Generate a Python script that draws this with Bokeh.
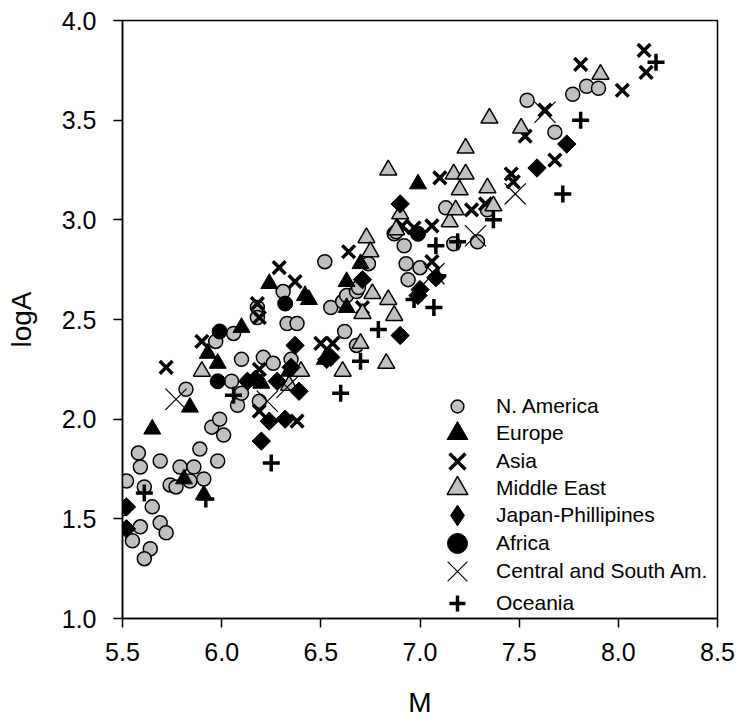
import math
from bokeh.plotting import figure
from bokeh.models import FixedTicker, PrintfTickFormatter, Legend, LegendItem, Range1d
from bokeh.embed import file_html
from bokeh.resources import INLINE

# ---- data (M, logA) ----
na_m = [5.50, 5.52, 5.58, 5.59, 5.61, 5.65, 5.59, 5.55, 5.64, 5.61, 5.69, 5.72, 5.69, 5.74, 5.77,
        5.79, 5.84, 5.86, 5.91, 5.89, 5.82, 5.95, 5.99, 6.01, 5.98, 5.97, 6.06, 6.05, 6.10, 6.08,
        6.10, 6.18, 6.18, 6.21, 6.26, 6.19, 6.31, 6.33, 6.38, 6.52, 6.55, 6.61, 6.63, 6.62, 6.68,
        6.68, 6.69, 6.74, 6.87, 6.88, 6.92, 6.93, 6.94, 7.00, 7.13, 7.17, 7.29, 7.34, 7.54, 7.68,
        7.77, 7.84, 7.90, 6.35]
na_a = [1.55, 1.69, 1.83, 1.76, 1.66, 1.56, 1.46, 1.39, 1.35, 1.30, 1.48, 1.43, 1.79, 1.67, 1.66,
        1.76, 1.69, 1.76, 1.70, 1.85, 2.15, 1.96, 2.00, 1.92, 1.79, 2.39, 2.43, 2.19, 2.30, 2.07,
        2.13, 2.56, 2.51, 2.31, 2.28, 2.09, 2.64, 2.48, 2.48, 2.79, 2.56, 2.59, 2.62, 2.44, 2.37,
        2.64, 2.66, 2.78, 2.93, 2.94, 2.87, 2.78, 2.70, 2.76, 3.06, 2.88, 2.89, 3.05, 3.60, 3.44,
        3.63, 3.67, 3.66, 2.30]

eu_m = [5.65, 5.84, 5.81, 5.91, 5.93, 5.98, 6.10, 6.20, 6.24, 6.42, 6.44, 6.52, 6.63, 6.63, 6.70,
        6.99, 6.34]
eu_a = [1.95, 2.06, 1.70, 1.62, 2.33, 2.28, 2.46, 2.18, 2.68, 2.62, 2.60, 2.30, 2.56, 2.69, 2.78,
        3.18, 2.24]

as_m = [5.72, 5.90, 6.18, 6.19, 6.29, 6.37, 6.19, 6.19, 6.38, 6.50, 6.56, 6.64, 6.71, 6.91, 6.97,
        7.06, 7.06, 7.10, 7.26, 7.46, 7.47, 7.53, 7.63, 7.68, 7.81, 8.02, 8.13, 8.14, 7.33]
as_a = [2.26, 2.39, 2.58, 2.51, 2.76, 2.69, 2.25, 2.04, 1.99, 2.38, 2.38, 2.84, 2.56, 2.97, 2.96,
        2.97, 2.79, 3.21, 3.05, 3.23, 3.19, 3.42, 3.55, 3.30, 3.78, 3.65, 3.85, 3.74, 3.08]

me_m = [5.90, 6.34, 6.40, 6.61, 6.71, 6.70, 6.73, 6.75, 6.76, 6.84, 6.87, 6.83, 6.84, 6.90, 6.88,
        7.15, 7.17, 7.20, 7.23, 7.23, 7.18, 7.34, 7.37, 7.35, 7.51, 7.91]
me_a = [2.24, 2.17, 2.24, 2.24, 2.53, 2.38, 2.91, 2.84, 2.63, 2.60, 2.52, 2.28, 3.25, 3.03, 2.95,
        2.99, 3.23, 3.15, 3.23, 3.36, 3.05, 3.16, 3.07, 3.51, 3.46, 3.73]

jp_m = [5.52, 5.52, 6.20, 6.24, 6.32, 6.13, 6.28, 6.35, 6.37, 6.39, 6.55, 6.71, 6.90, 6.90, 6.99,
        7.00, 7.08, 7.59, 7.74, 6.17, 6.53]
jp_a = [1.56, 1.45, 1.89, 1.99, 2.00, 2.19, 2.19, 2.26, 2.37, 2.14, 2.31, 2.70, 3.08, 2.42, 2.62,
        2.65, 2.71, 3.26, 3.38, 2.20, 2.30]

af_m = [5.99, 5.98, 6.32, 6.99]
af_a = [2.44, 2.19, 2.58, 2.93]

cs_m = [5.77, 6.23, 6.33, 7.28, 7.48, 7.63, 7.07]
cs_a = [2.10, 2.09, 2.16, 2.92, 3.13, 3.54, 2.73]

oc_m = [5.61, 5.92, 6.06, 6.25, 6.60, 6.70, 6.79, 6.97, 7.07, 7.08, 7.19, 7.37, 7.72, 7.81, 8.19,
        7.09]
oc_a = [1.63, 1.60, 2.12, 1.78, 2.13, 2.29, 2.45, 2.60, 2.56, 2.87, 2.89, 3.00, 3.13, 3.50, 3.79,
        2.72]

x_ticks = [5.5, 6.0, 6.5, 7.0, 7.5, 8.0, 8.5]
y_ticks = [1.0, 1.5, 2.0, 2.5, 3.0, 3.5, 4.0]

FONT = "Liberation Sans"
GREY = "#c0c0c0"

p = figure(width=737, height=722, output_backend="svg", toolbar_location=None,
           x_range=Range1d(5.5, 8.5), y_range=Range1d(1.0, 4.0),
           min_border_left=122, min_border_right=20, min_border_top=20, min_border_bottom=104)

p.grid.visible = False
p.outline_line_color = "black"
p.outline_line_width = 1.5
p.background_fill_color = "white"
p.border_fill_color = "white"

for ax in (p.xaxis[0], p.yaxis[0]):
    ax.axis_line_width = 1.5
    ax.major_tick_line_width = 1.5
    ax.major_tick_out = 9
    ax.major_tick_in = 0
    ax.minor_tick_out = 0
    ax.minor_tick_in = 0
    ax.major_label_text_font = FONT
    ax.major_label_text_font_size = "25px"
    ax.major_label_text_color = "black"
    ax.axis_label_text_font = FONT
    ax.axis_label_text_font_size = "28px"
    ax.axis_label_text_font_style = "normal"
    ax.axis_label_text_color = "black"
    ax.formatter = PrintfTickFormatter(format="%.1f")

p.xaxis[0].ticker = FixedTicker(ticks=x_ticks)
p.yaxis[0].ticker = FixedTicker(ticks=y_ticks)
p.xaxis[0].axis_label = "M"
p.yaxis[0].axis_label = "logA"
p.xaxis[0].major_label_standoff = 15
p.yaxis[0].major_label_standoff = 17
p.xaxis[0].axis_label_standoff = 23
p.yaxis[0].axis_label_standoff = 22

r_na = p.scatter(na_m, na_a, marker="circle", size=14, fill_color=GREY, line_color="black", line_width=1.5)
r_eu = p.scatter(eu_m, eu_a, marker="triangle", size=17, fill_color="black", line_color="black", line_width=1)
r_as = p.scatter(as_m, as_a, marker="x", size=18, line_color="black", line_width=3.5)
r_me = p.scatter(me_m, me_a, marker="triangle", size=17, fill_color=GREY, line_color="black", line_width=1.5)
# diamond used only for the legend swatch; it lies hidden under the rotated squares drawn next
r_jp_key = p.scatter(jp_m, jp_a, marker="diamond", size=15, fill_color="black", line_color="black", line_width=1)
r_jp = p.scatter(jp_m, jp_a, marker="square", angle=math.pi / 4, size=13, fill_color="black", line_color="black", line_width=1)
r_af = p.scatter(af_m, af_a, marker="circle", size=15, fill_color="black", line_color="black", line_width=1)
r_cs = p.scatter(cs_m, cs_a, marker="x", size=30, line_color="black", line_width=1.2)
r_oc = p.scatter(oc_m, oc_a, marker="cross", size=17, line_color="black", line_width=3.5)

# legend: one single-item legend per row so that marker size and row pitch are independent
FRAME_LEFT, FRAME_BOTTOM = 122, 618
GLYPH_CX, LABEL_LEFT = 457, 496
rows = [
    # label, renderer, row centre (px from top), glyph w, glyph h
    ("N. America", r_na, 405.7, 32, 32),
    ("Europe", r_eu, 433.3, 52, 52),
    ("Asia", r_as, 461.0, 56, 56),
    ("Middle East", r_me, 488.3, 52, 52),
    ("Japan-Phillipines", r_jp_key, 515.0, 52, 52),
    ("Africa", r_af, 543.3, 50, 50),
    ("Central and South Am.", r_cs, 571.0, 70, 86),
    ("Oceania", r_oc, 603.3, 40, 40),
]
for label, rend, cy, gw, gh in rows:
    lg = Legend(items=[LegendItem(label=label, renderers=[rend])],
                location=(GLYPH_CX - gw / 2 - FRAME_LEFT, FRAME_BOTTOM - cy - gh / 2))
    lg.glyph_width = gw
    lg.glyph_height = gh
    lg.label_standoff = int(round(LABEL_LEFT - (GLYPH_CX + gw / 2)))
    lg.padding = 0
    lg.margin = 0
    lg.spacing = 0
    lg.label_text_font = FONT
    lg.label_text_font_size = "21px"
    lg.label_text_color = "black"
    lg.background_fill_alpha = 0
    lg.border_line_alpha = 0
    p.add_layout(lg, "center")

open("out.html", "w").write(file_html(p, INLINE))
